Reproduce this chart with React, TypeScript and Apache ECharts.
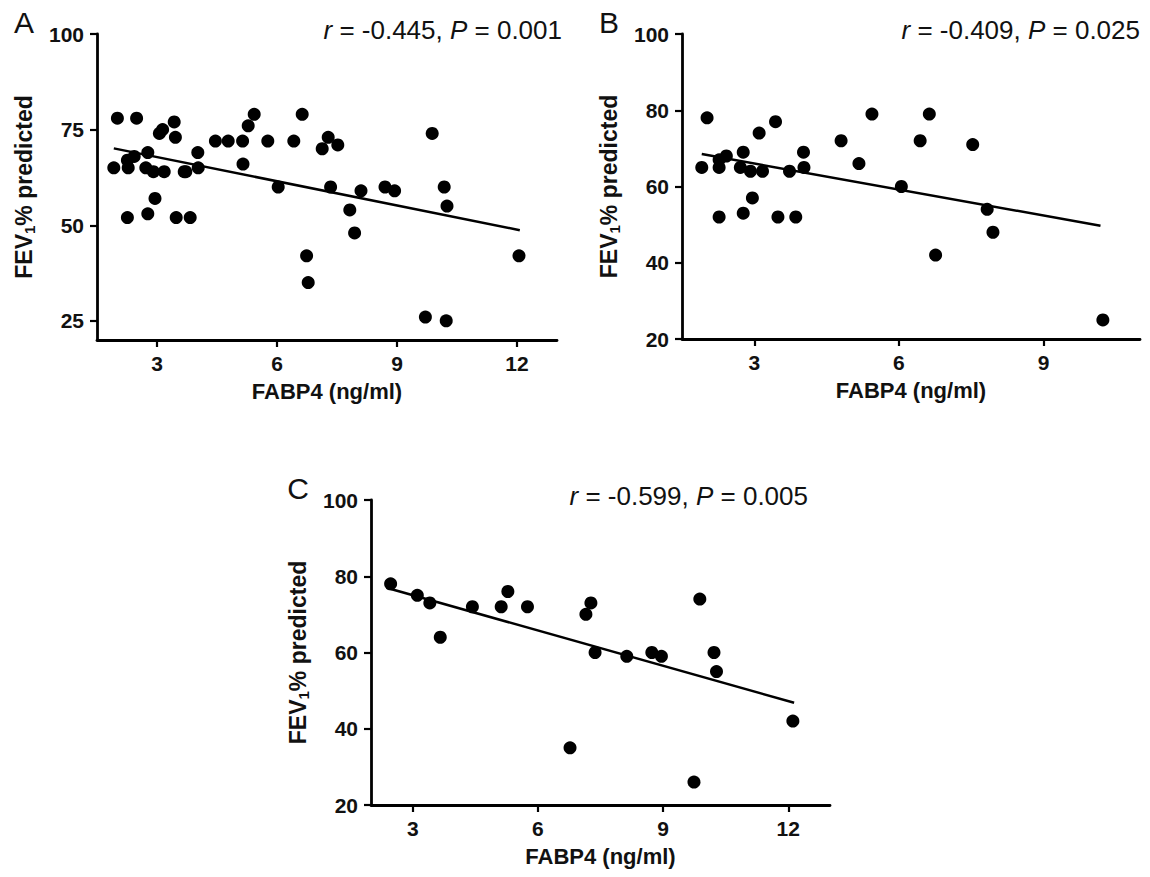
import React, { useEffect, useRef } from "react";
import * as echarts from "echarts";

// Panel A: all patients
const A_FABP4 = [1.92, 2.01, 2.49, 2.26, 2.28, 2.43, 2.26, 2.77, 2.72, 2.91, 2.95, 2.77, 3.06, 3.14, 3.18, 3.43, 3.46, 3.48, 3.72, 3.68, 3.83, 4.02, 4.03, 4.46, 4.78, 5.14, 5.15, 5.28, 5.43, 5.77, 6.03, 6.42, 6.63, 6.74, 6.78, 7.13, 7.28, 7.34, 7.52, 7.82, 7.94, 8.10, 8.70, 8.94, 9.71, 9.88, 10.18, 10.23, 10.25, 12.05];
const A_FEV1 = [65, 78, 78, 67, 65, 68, 52, 69, 65, 64, 57, 53, 74, 75, 64, 77, 73, 52, 64, 64, 52, 69, 65, 72, 72, 72, 66, 76, 79, 72, 60, 72, 79, 42, 35, 70, 73, 60, 71, 54, 48, 59, 60, 59, 26, 74, 60, 25, 55, 42];
const A_FIT = [[1.92, 70.1], [12.07, 48.7]];

// Panel B
const B_FABP4 = [1.91, 2.02, 2.27, 2.27, 2.42, 2.27, 2.77, 2.71, 2.92, 2.96, 2.77, 3.10, 3.17, 3.44, 3.49, 3.73, 3.86, 4.02, 4.03, 4.80, 5.17, 5.44, 6.05, 6.44, 6.63, 6.76, 7.53, 7.83, 7.95, 10.23];
const B_FEV1 = [65, 78, 67, 65, 68, 52, 69, 65, 64, 57, 53, 74, 64, 77, 52, 64, 52, 69, 65, 72, 66, 79, 60, 72, 79, 42, 71, 54, 48, 25];
const B_FIT = [[1.91, 68.5], [10.18, 49.7]];

// Panel C
const C_FABP4 = [2.47, 3.11, 3.41, 3.66, 4.43, 5.12, 5.28, 5.75, 7.15, 7.27, 7.37, 6.77, 8.13, 8.73, 8.96, 9.88, 9.74, 10.22, 10.28, 12.11];
const C_FEV1 = [78, 75, 73, 64, 72, 72, 76, 72, 70, 73, 60, 35, 59, 60, 59, 74, 26, 60, 55, 42];
const C_FIT = [[2.37, 77.0], [12.14, 46.8]];

const A_YTICKS = [25, 50, 75, 100];
const A_XTICKS = [3, 6, 9, 12];
const B_XTICKS = [3, 6, 9];
const C_XTICKS = [3, 6, 9, 12];

const STATS = ["{i|r} = -0.445, {i|P} = 0.001", "{i|r} = -0.409, {i|P} = 0.025", "{i|r} = -0.599, {i|P} = 0.005"];
const LETTERS = ["A", "B", "C"];
const X_TITLE = "FABP4 (ng/ml)";
const Y_TITLE = "{n|FEV}{s|1}{n|% predicted}";

const FONT = "'Liberation Sans', Arial, Helvetica, sans-serif";

export default function App() {
  const ref = useRef<HTMLDivElement>(null);

  useEffect(() => {
    document.body.style.margin = "0";
    const chart = echarts.init(ref.current!, null, { renderer: "svg" });

    const grids = [
      { left: 97, top: 34, width: 460, height: 306 },
      { left: 682, top: 34, width: 458, height: 305 },
      { left: 371, top: 500, width: 459, height: 305 },
    ];
    const xRanges = [
      { min: 1.5, max: 13, ticks: A_XTICKS },
      { min: 1.5, max: 11, ticks: B_XTICKS },
      { min: 2, max: 13, ticks: C_XTICKS },
    ];

    const axisLine = { show: true, onZero: false, lineStyle: { color: "#000", width: 2.8 } };
    const axisTick = { show: true, length: 7, lineStyle: { color: "#000", width: 2.2 } };
    const labelStyle = { color: "#111", fontSize: 21, fontWeight: "bold" as const, fontFamily: FONT };

    const xAxis = xRanges.map((r, i) => ({
      type: "value" as const,
      gridIndex: i,
      min: r.min,
      max: r.max,
      axisLine,
      axisTick: { ...axisTick, customValues: r.ticks },
      axisLabel: { ...labelStyle, margin: 13, customValues: r.ticks },
      splitLine: { show: false },
      name: X_TITLE,
      nameLocation: "middle" as const,
      nameGap: 40,
      nameTextStyle: { color: "#111", fontSize: 22, fontWeight: "bold" as const, fontFamily: FONT },
    }));

    const yTitleStyle = {
      color: "#111",
      fontFamily: FONT,
      rich: {
        n: { fontSize: 23, fontWeight: "bold" as const, fontFamily: FONT, color: "#111", lineHeight: 26 },
        s: { fontSize: 15, fontWeight: "bold" as const, fontFamily: FONT, color: "#111", lineHeight: 15, padding: [6, 0, 0, 0], verticalAlign: "bottom" as const },
      },
    };

    const yAxis = [0, 1, 2].map((i) => ({
      type: "value" as const,
      gridIndex: i,
      min: 20,
      max: 100,
      ...(i === 0 ? {} : { interval: 20 }),
      axisLine,
      axisTick: i === 0 ? { ...axisTick, customValues: A_YTICKS } : axisTick,
      axisLabel: i === 0 ? { ...labelStyle, margin: 13, customValues: A_YTICKS } : { ...labelStyle, margin: 13 },
      splitLine: { show: false },
      name: Y_TITLE,
      nameLocation: "middle" as const,
      nameRotate: 90,
      nameGap: 60,
      nameTextStyle: yTitleStyle,
    }));

    const sets = [
      [A_FABP4, A_FEV1, A_FIT],
      [B_FABP4, B_FEV1, B_FIT],
      [C_FABP4, C_FEV1, C_FIT],
    ] as const;

    const series: any[] = [];
    sets.forEach(([xs, ys, fit], i) => {
      series.push({
        type: "scatter",
        xAxisIndex: i,
        yAxisIndex: i,
        symbol: "circle",
        symbolSize: 13,
        itemStyle: { color: "#000", opacity: 1 },
        data: (xs as number[]).map((x, k) => [x, (ys as number[])[k]]),
        z: 3,
      });
      series.push({
        type: "line",
        xAxisIndex: i,
        yAxisIndex: i,
        symbol: "none",
        lineStyle: { color: "#000", width: 2.5 },
        data: fit,
        z: 2,
      });
    });

    const statPos = [
      { x: 562, y: 30 },
      { x: 1140, y: 30 },
      { x: 808, y: 496 },
    ];
    const letterPos = [
      { x: 24, y: 22 },
      { x: 609, y: 22 },
      { x: 298, y: 488 },
    ];

    const graphic: any[] = [];
    STATS.forEach((t, i) => {
      graphic.push({
        type: "text",
        x: statPos[i].x,
        y: statPos[i].y,
        style: {
          text: t,
          fontSize: 26,
          fontFamily: FONT,
          fill: "#111",
          align: "right",
          verticalAlign: "middle",
          rich: { i: { fontStyle: "italic", fontSize: 26, fontFamily: FONT, fill: "#111" } },
        },
      });
    });
    LETTERS.forEach((t, i) => {
      graphic.push({
        type: "text",
        x: letterPos[i].x,
        y: letterPos[i].y,
        style: {
          text: t,
          fontSize: 30,
          fontFamily: FONT,
          fill: "#111",
          align: "center",
          verticalAlign: "middle",
        },
      });
    });

    chart.setOption({
      animation: false,
      backgroundColor: "#fff",
      grid: grids,
      xAxis,
      yAxis,
      series,
      graphic,
    });

    return () => chart.dispose();
  }, []);

  return <div ref={ref} style={{ width: 1150, height: 877 }} />;
}
